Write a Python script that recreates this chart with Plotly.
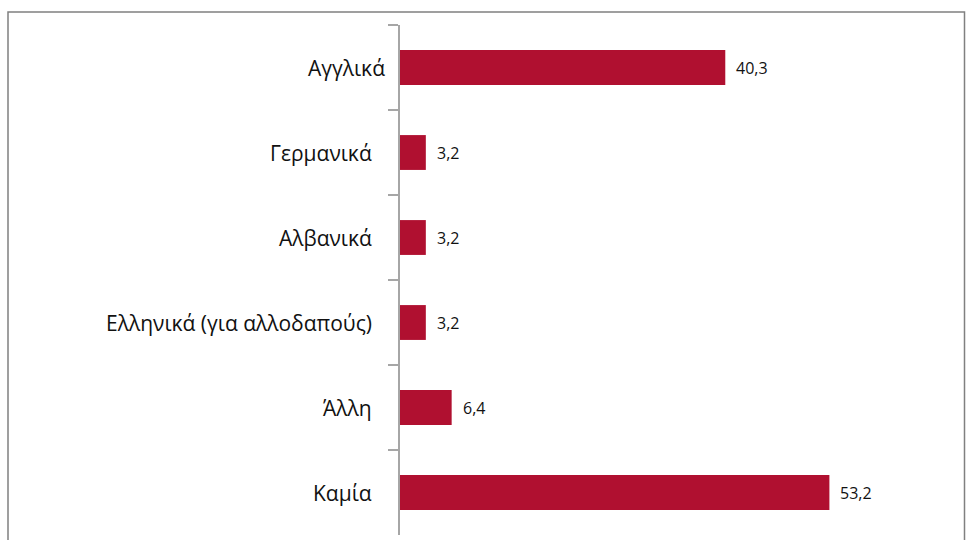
import plotly.graph_objects as go

# Languages spoken and share of respondents (%)
languages = ["Αγγλικά", "Γερμανικά", "Αλβανικά", "Ελληνικά (για αλλοδαπούς)", "Άλλη", "Καμία"]
shares = [40.3, 3.2, 3.2, 3.2, 6.4, 53.2]

W, H = 966, 540
ML, MR, MT, MB = 400, 1, 25, 5
plot_w = W - ML - MR
plot_h = H - MT - MB
x_max = 70

FONT = "Open Sans, sans-serif"
TEXT = "#111111"

fig = go.Figure(
    go.Bar(
        x=shares,
        y=languages,
        orientation="h",
        marker=dict(color="#B01030", line=dict(width=0)),
        width=0.41,
        hoverinfo="skip",
    )
)

# value labels to the right of each bar, with comma decimals
for lang, v in zip(languages, shares):
    fig.add_annotation(
        x=v, y=lang, xref="x", yref="y",
        text=f"{v:.1f}".replace(".", ","),
        showarrow=False, xanchor="left", xshift=9,
        font=dict(family=FONT, size=16, color=TEXT),
    )

# category labels, right-aligned left of the axis (first one sits a bit closer)
label_gap = {"Αγγλικά": 13}
for lang in languages:
    fig.add_annotation(
        x=0, y=lang, xref="paper", yref="y",
        text=lang, showarrow=False, xanchor="right",
        xshift=-(26 - label_gap.get(lang, 0)),
        font=dict(family=FONT, size=21, color=TEXT),
    )

# outer chart border
fig.add_shape(
    type="rect", xref="paper", yref="paper",
    x0=(8 - ML) / plot_w, x1=(964.5 - ML) / plot_w,
    y0=-(MB + 20) / plot_h, y1=1 + (MT - 12) / plot_h,
    line=dict(color="#808080", width=1.5), fillcolor="rgba(0,0,0,0)",
    layer="below",
)

fig.update_layout(
    width=W, height=H,
    margin=dict(l=ML, r=MR, t=MT, b=MB),
    paper_bgcolor="white", plot_bgcolor="white",
    showlegend=False,
    bargap=0.59,
    xaxis=dict(range=[0, x_max], visible=False, fixedrange=True),
    yaxis=dict(
        autorange="reversed",
        showline=True, linecolor="#A6A6A6", linewidth=1.5,
        ticks="outside", ticklen=10, tickcolor="#A6A6A6", tickwidth=1.5,
        tickson="boundaries",
        showticklabels=False,
        showgrid=False,
    ),
)

fig.write_html("out.html")
